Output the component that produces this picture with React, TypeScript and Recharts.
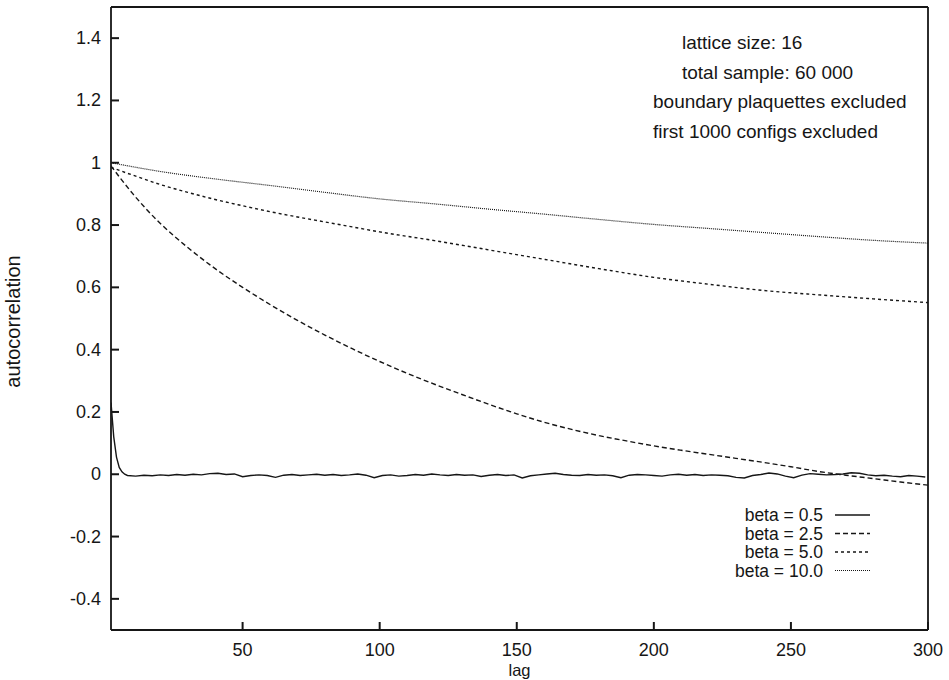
import { LineChart, Line, XAxis, YAxis, Legend } from 'recharts'

// lag axis and autocorrelation axis ticks
const X_TICKS = [50, 100, 150, 200, 250, 300]
const Y_TICKS = [-0.4, -0.2, 0, 0.2, 0.4, 0.6, 0.8, 1, 1.2, 1.4]

// beta = 0.5 : drops to zero within a few lags, then noise around 0
const beta05Lag = [
  2, 3, 4, 5, 6, 7, 8, 11, 14, 17, 20, 23, 26, 29, 32, 35, 38, 41, 44, 47, 50, 53, 56, 59, 62, 65, 68, 71,
  74, 77, 80, 83, 86, 89, 92, 95, 98, 101, 104, 107, 110, 113, 116, 119, 122, 125, 128, 131, 134, 137,
  140, 143, 146, 149, 152, 155, 158, 161, 164, 167, 170, 173, 176, 179, 182, 185, 188, 191, 194, 197,
  200, 203, 206, 209, 212, 215, 218, 221, 224, 227, 230, 233, 236, 239, 242, 245, 248, 251, 254, 257,
  260, 263, 266, 269, 272, 275, 278, 281, 284, 287, 290, 293, 296, 299,
]
const beta05Val = [
  0.23, 0.12, 0.055, 0.022, 0.008, 0.0, -0.004, -0.006, -0.003, -0.005, -0.002, -0.004, -0.001, -0.003,
  0.0, -0.002, 0.002, 0.003, -0.001, 0.001, -0.008, -0.004, -0.002, -0.004, -0.01, -0.003, -0.001, -0.004,
  -0.002, 0.0, -0.003, -0.001, -0.004, -0.002, 0.001, -0.003, -0.011, -0.004, -0.002, -0.006, -0.004,
  -0.001, -0.003, 0.001, -0.002, -0.004, -0.001, -0.003, -0.002, -0.007, -0.003, -0.001, -0.004, -0.002,
  -0.012, -0.005, -0.002, 0.001, 0.003, -0.001, -0.003, -0.004, -0.001, -0.003, -0.002, -0.005, -0.011,
  -0.003, -0.001, -0.002, -0.004, -0.006, -0.002, 0.0, -0.003, -0.001, -0.004, -0.002, -0.003, -0.005,
  -0.01, -0.012, -0.004, -0.001, 0.004, 0.001, -0.006, -0.011, -0.003, 0.002, 0.0, -0.002, -0.001, 0.001,
  0.005, 0.003, -0.002, -0.005, -0.003, -0.006, -0.008, -0.004, -0.006, -0.009,
]

const beta25Lag = [
  2, 5, 10, 15, 20, 25, 30, 40, 50, 60, 70, 80, 90, 100, 110, 120, 130, 140, 150, 160, 170, 180, 190,
  200, 210, 220, 230, 240, 250, 260, 270, 280, 290, 300,
]
const beta25Val = [
  0.99, 0.955, 0.9, 0.85, 0.805, 0.765, 0.728, 0.66, 0.6, 0.545, 0.494, 0.447, 0.403, 0.362, 0.324, 0.289,
  0.256, 0.224, 0.194, 0.167, 0.144, 0.124, 0.107, 0.091, 0.077, 0.064, 0.051, 0.038, 0.024, 0.009,
  -0.003, -0.014, -0.025, -0.035,
]

const beta50Lag = [2, 10, 20, 30, 40, 50, 60, 70, 80, 90, 100, 120, 140, 160, 180, 200, 220, 240, 260, 280, 300]
const beta50Val = [
  0.985, 0.96, 0.93, 0.905, 0.882, 0.862, 0.843, 0.826, 0.81, 0.794, 0.778, 0.75, 0.72, 0.69, 0.66,
  0.632, 0.61, 0.59, 0.576, 0.563, 0.551,
]

const beta100Lag = [2, 20, 40, 60, 80, 100, 120, 140, 160, 180, 200, 220, 240, 260, 280, 300]
const beta100Val = [
  1.0, 0.972, 0.948, 0.927, 0.905, 0.884, 0.868, 0.851, 0.835, 0.818, 0.802, 0.789, 0.776, 0.763, 0.751,
  0.742,
]

const ANNOTATIONS = [
  'lattice size: 16',
  'total sample: 60 000',
  'boundary plaquettes excluded',
  'first 1000 configs excluded',
]

const toPoints = (lags: number[], vals: number[]) => lags.map((lag, i) => ({ lag, r: vals[i] }))

const SERIES = [
  { name: 'beta = 0.5', data: toPoints(beta05Lag, beta05Val), dash: undefined, width: 1.4, type: 'linear' },
  { name: 'beta = 2.5', data: toPoints(beta25Lag, beta25Val), dash: '5 3', width: 1.4, type: 'monotone' },
  { name: 'beta = 5.0', data: toPoints(beta50Lag, beta50Val), dash: '3 3', width: 1.4, type: 'monotone' },
  { name: 'beta = 10.0', data: toPoints(beta100Lag, beta100Val), dash: '1 1', width: 1.2, type: 'monotone' },
]

const INK = '#161616'
const FONT = '"Liberation Sans", Arial, Helvetica, sans-serif'
const TICK_LEN = 8
const GAP = 10

// gnuplot style ticks: short marks pointing into the plot, label outside
function LeftTick({ x, y, payload }: any) {
  const ax = x + GAP
  return (
    <g>
      <line x1={ax} x2={ax + TICK_LEN} y1={y} y2={y} stroke={INK} strokeWidth={2} />
      <text x={x} y={y} textAnchor="end" dominantBaseline="central" fontSize={18} fontFamily={FONT} fill={INK}>
        {payload.value}
      </text>
    </g>
  )
}

function BottomTick({ x, y, payload }: any) {
  const ay = y - GAP
  return (
    <g>
      <line x1={x} x2={x} y1={ay} y2={ay - TICK_LEN} stroke={INK} strokeWidth={2} />
      <text x={x} y={ay + 26} textAnchor="middle" fontSize={18} fontFamily={FONT} fill={INK}>
        {payload.value}
      </text>
    </g>
  )
}

// mirrored ticks on the top and right frame (tickMargin 0, so x/y sit on the axis)
function TopTick({ x, y }: any) {
  return <line x1={x} x2={x} y1={y} y2={y + TICK_LEN} stroke={INK} strokeWidth={2} />
}

function RightTick({ x, y }: any) {
  return <line x1={x} x2={x - TICK_LEN} y1={y} y2={y} stroke={INK} strokeWidth={2} />
}

function YLabel({ viewBox }: any) {
  const cx = viewBox.x + 13
  const cy = viewBox.y + viewBox.height / 2 + 3
  return (
    <text
      x={cx}
      y={cy}
      transform={`rotate(-90, ${cx}, ${cy})`}
      textAnchor="middle"
      dominantBaseline="central"
      fontSize={20}
      fontFamily={FONT}
      fill={INK}
    >
      autocorrelation
    </text>
  )
}

function XLabel({ viewBox }: any) {
  return (
    <text
      x={viewBox.x + viewBox.width / 2}
      y={viewBox.y + 46}
      textAnchor="middle"
      fontSize={16.5}
      fontFamily={FONT}
      fill={INK}
    >
      lag
    </text>
  )
}

function LegendBox() {
  return (
    <svg width={240} height={80} style={{ display: 'block' }}>
      {SERIES.map((s, i) => {
        const y = 15 + i * 18.5
        return (
          <g key={s.name}>
            <text x={163} y={y} textAnchor="end" dominantBaseline="central" fontSize={17.5} fontFamily={FONT} fill={INK}>
              {s.name}
            </text>
            <line x1={175} x2={210} y1={y} y2={y} stroke={INK} strokeWidth={s.width} strokeDasharray={s.dash} />
          </g>
        )
      })}
    </svg>
  )
}

export default function App() {
  return (
    <div style={{ position: 'absolute', left: 0, top: 0, width: 949, height: 680, background: '#fff' }}>
      <LineChart width={949} height={680} margin={{ top: 6, right: 20, bottom: 0, left: 0 }}>
        <XAxis
          dataKey="lag"
          type="number"
          domain={[2, 300]}
          allowDataOverflow
          ticks={X_TICKS}
          height={50}
          tickSize={0}
          tickMargin={GAP}
          tickLine={false}
          tick={BottomTick}
          stroke={INK}
          strokeWidth={1.8}
          label={XLabel}
        />
        <XAxis
          xAxisId="top"
          orientation="top"
          dataKey="lag"
          type="number"
          domain={[2, 300]}
          ticks={X_TICKS}
          height={1}
          tickSize={0}
          tickMargin={0}
          tickLine={false}
          tick={TopTick}
          stroke={INK}
          strokeWidth={1.8}
        />
        <YAxis
          type="number"
          domain={[-0.5, 1.5]}
          allowDataOverflow
          ticks={Y_TICKS}
          width={111}
          tickSize={0}
          tickMargin={GAP}
          tickLine={false}
          tick={LeftTick}
          stroke={INK}
          strokeWidth={1.8}
          label={YLabel}
        />
        <YAxis
          yAxisId="right"
          orientation="right"
          type="number"
          domain={[-0.5, 1.5]}
          ticks={Y_TICKS}
          width={1}
          tickSize={0}
          tickMargin={0}
          tickLine={false}
          tick={RightTick}
          stroke={INK}
          strokeWidth={1.8}
        />
        {SERIES.map((s) => (
          <Line
            key={s.name}
            data={s.data}
            dataKey="r"
            name={s.name}
            type={s.type as any}
            stroke={INK}
            strokeWidth={s.width}
            strokeDasharray={s.dash}
            dot={false}
            activeDot={false}
            isAnimationActive={false}
          />
        ))}
        <Legend
          layout="horizontal"
          verticalAlign="middle"
          align="center"
          content={LegendBox}
          wrapperStyle={{ left: 660, top: 500, width: 240, height: 80 }}
        />
      </LineChart>
      <svg
        width={949}
        height={680}
        style={{ position: 'absolute', left: 0, top: 0, pointerEvents: 'none' }}
      >
        {ANNOTATIONS.map((t, i) => (
          <text
            key={t}
            x={i < 2 ? 682 : 653}
            y={49 + i * 29.5}
            fontSize={19}
            fontFamily={FONT}
            fill={INK}
          >
            {t}
          </text>
        ))}
      </svg>
    </div>
  )
}
